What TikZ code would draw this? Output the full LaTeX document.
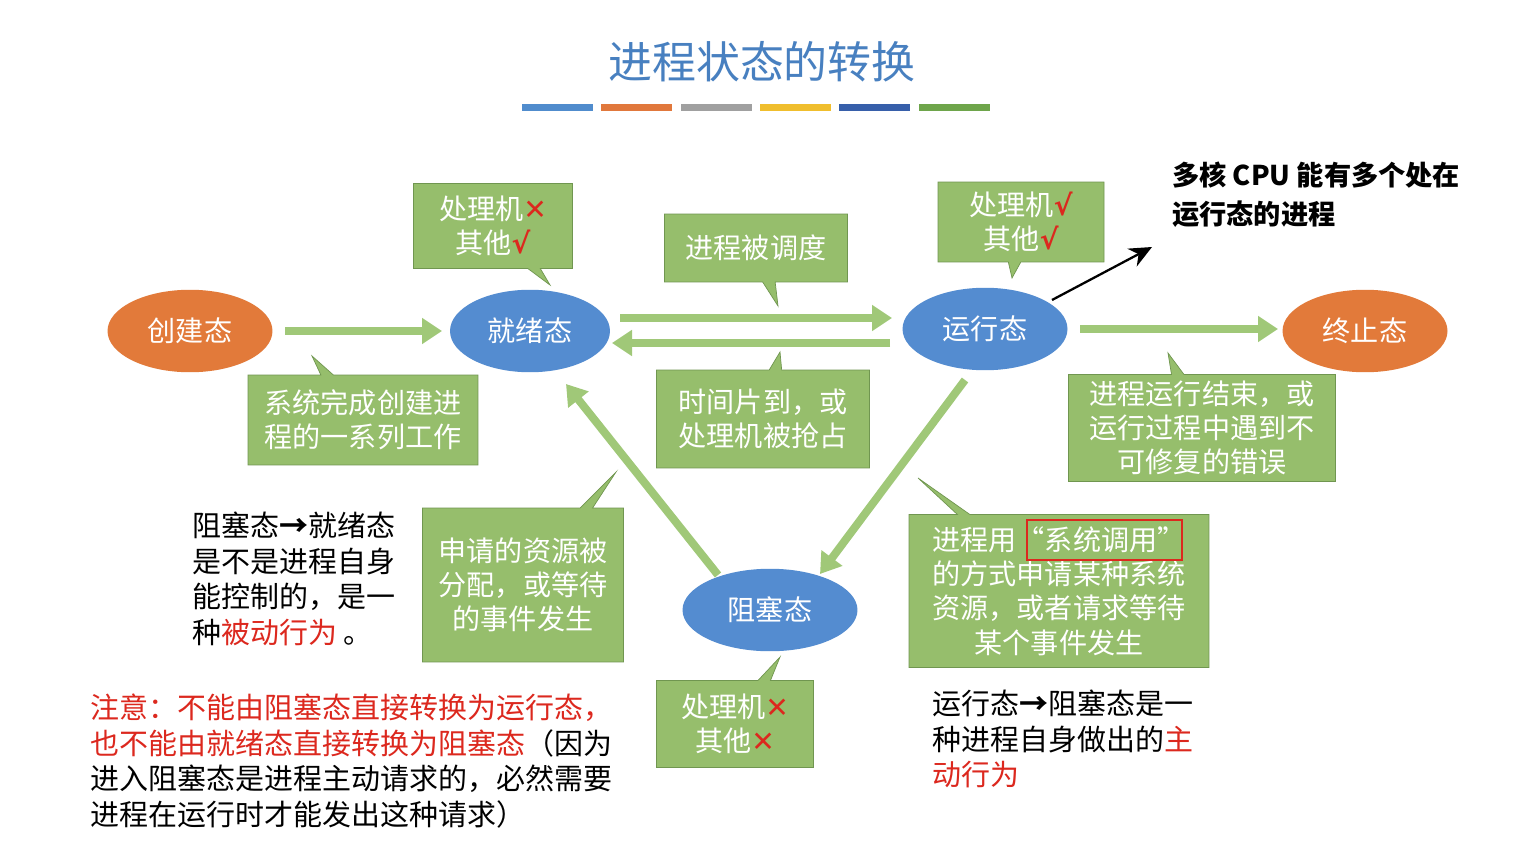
\documentclass[tikz,border=0pt]{standalone}
\usepackage{fontspec}
\setmainfont{Noto Sans CJK SC}
\newfontfamily\symf{DejaVu Sans}
\usetikzlibrary{shapes.geometric,shapes.callouts,arrows.meta}
\definecolor{notegreen}{RGB}{150,190,108}
\definecolor{noteedge}{RGB}{112,150,80}
\definecolor{stblue}{RGB}{84,140,208}
\definecolor{storange}{RGB}{226,122,58}
\definecolor{titleblue}{RGB}{72,128,192}
\definecolor{arrowgreen}{RGB}{160,200,120}
\definecolor{tipred}{RGB}{220,40,30}
\definecolor{barone}{RGB}{80,140,205}
\definecolor{bartwo}{RGB}{225,120,60}
\definecolor{barthree}{RGB}{160,160,160}
\definecolor{barfour}{RGB}{240,190,45}
\definecolor{barfive}{RGB}{55,95,170}
\definecolor{barsix}{RGB}{110,165,75}
\newcommand{\nox}{{\symf\color{tipred}\char"2715}}
\newcommand{\yesv}{{\symf\bfseries\color{tipred}\char"221A}}
\tikzset{
  state/.style={ellipse, minimum width=3.3cm, minimum height=1.65cm, text=white,
    font=\fontsize{16}{19}\selectfont},
  note/.style={rectangle callout, fill=notegreen, draw=noteedge, text=white, align=center,
    font=\fontsize{16}{19.5}\selectfont, inner sep=2pt},
  move/.style={-{Triangle[length=0.4cm,width=0.5cm]}, line width=0.16cm, arrowgreen},
  plain/.style={anchor=north west, align=left, font=\fontsize{16.5}{20.2}\selectfont}
}
\begin{document}
\begin{tikzpicture}[x=0.02cm,y=-0.02cm]
\useasboundingbox[fill=white] (0,0) rectangle (1537,858);
% title and bars
\node (title) [text=titleblue, font=\fontsize{25}{28}\selectfont] at (762,62) {进程状态的转换};
\foreach \c/\xa in {barone/522,bartwo/601,barthree/681,barfour/760,barfive/839,barsix/919}
  \fill[\c] (\xa,104) rectangle ++(71,7);
% states
\node (new) [state, fill=storange] at (190,331) {创建态};
\node (ready) [state, fill=stblue, minimum width=3.2cm] at (530,331) {就绪态};
\node (run) [state, fill=stblue] at (985,329) {运行态};
\node (done) [state, fill=storange] at (1365,331) {终止态};
\node (block) [state, fill=stblue, minimum width=3.5cm] at (770,610) {阻塞态};
% transitions
\coordinate (a1) at (285,331); \coordinate (a2) at (442,331);
\coordinate (b1) at (620,318); \coordinate (b2) at (892,318);
\coordinate (c1) at (890,343); \coordinate (c2) at (612,343);
\coordinate (d1) at (1080,329); \coordinate (d2) at (1278,329);
\coordinate (e1) at (965,380); \coordinate (e2) at (820,574);
\coordinate (f1) at (718,575); \coordinate (f2) at (566,384);
\draw[move] (a1) -- (a2);
\draw[move] (b1) -- (b2);
\draw[move] (c1) -- (c2);
\draw[move] (d1) -- (d2);
\draw[move] (e1) -- (e2);
\draw[move] (f1) -- (f2);
% callouts
\node (n1) [note, minimum width=3.18cm, minimum height=1.7cm, callout absolute pointer={(550,285)}] at (493,226) {处理机\nox\\其他\yesv};
\node (n2) [note, minimum width=3.66cm, minimum height=1.36cm, callout absolute pointer={(778,306)}] at (756,248) {进程被调度};
\node (n3) [note, minimum width=3.32cm, minimum height=1.6cm, callout absolute pointer={(1012,278)}] at (1021,222) {处理机\yesv\\其他\yesv};
\node (n4) [note, minimum width=4.6cm, minimum height=1.8cm, callout absolute pointer={(312,356)}] at (363,420) {系统完成创建进\\程的一系列工作};
\node (n5) [note, minimum width=4.26cm, minimum height=1.96cm, callout absolute pointer={(780,352)}] at (763,419) {时间片到，或\\处理机被抢占};
\node (n6) [note, minimum width=5.34cm, minimum height=2.14cm, callout absolute pointer={(1168,353)}] at (1202,428) {进程运行结束，或\\运行过程中遇到不\\可修复的错误};
\node (n7) [note, minimum width=4.02cm, minimum height=3.08cm, callout absolute pointer={(616,472)}] at (523,585) {申请的资源被\\分配，或等待\\的事件发生};
\node (n8) [note, minimum width=6cm, minimum height=3.06cm, callout absolute pointer={(918,478)}] at (1059,591) {进程用“系统调用”\\的方式申请某种系统\\资源，或者请求等待\\某个事件发生};
\node (n9) [note, minimum width=3.14cm, minimum height=1.74cm, callout absolute pointer={(780,657)}] at (735,724) {处理机\nox\\其他\nox};
\draw[tipred, line width=1.2pt] (1027,520) rectangle (1182,560);
% multi-core remark
\node (multi) [anchor=north west, align=left, font=\fontsize{15.5}{22}\bfseries\selectfont] at (1166,156) {多核 CPU 能有多个处在\\运行态的进程};
\coordinate (m1) at (1052,300); \coordinate (m2) at (1152,247);
\draw[-{Stealth[length=0.45cm,width=0.4cm]}, line width=1.3pt] (m1) -- (m2);
% side texts
\node (passive) [plain] at (186,506) {阻塞态{\bfseries→}就绪态\\是不是进程自身\\能控制的，是一\\种{\color{tipred}被动行为} 。};
\node (warn) [plain] at (84,688) {{\color{tipred}注意：不能由阻塞态直接转换为运行态，}\\{\color{tipred}也不能由就绪态直接转换为阻塞态}（因为\\进入阻塞态是进程主动请求的，必然需要\\进程在运行时才能发出这种请求）};
\node (active) [plain] at (926,684) {运行态{\bfseries→}阻塞态是一\\种进程自身做出的{\color{tipred}主}\\{\color{tipred}动行为}};
\end{tikzpicture}
\end{document}
